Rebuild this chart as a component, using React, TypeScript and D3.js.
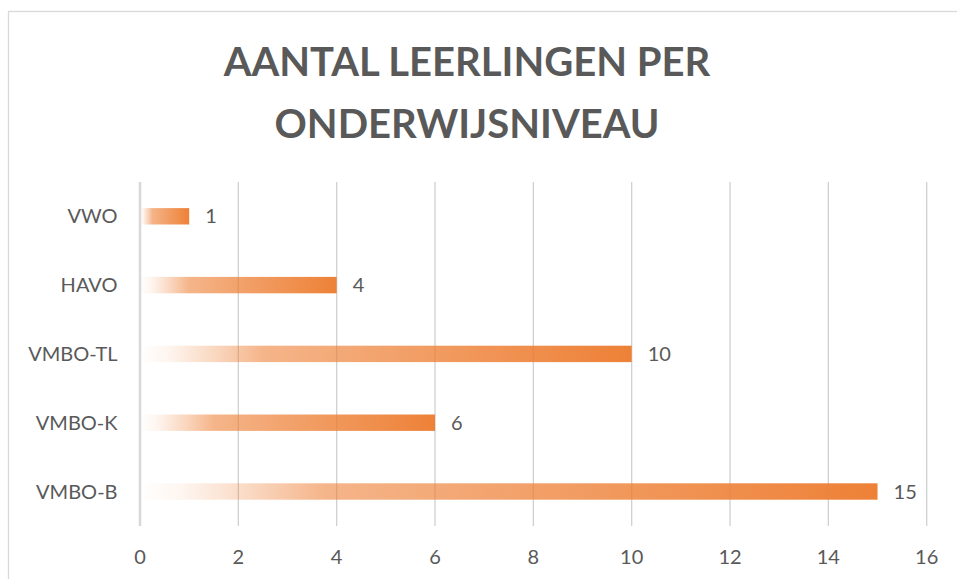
import React from "react";
import * as d3 from "d3";

const categories = ["VWO", "HAVO", "VMBO-TL", "VMBO-K", "VMBO-B"];
const values = [1, 4, 10, 6, 15];
const xTicks = [0, 2, 4, 6, 8, 10, 12, 14, 16];
const titleLines = ["AANTAL LEERLINGEN PER", "ONDERWIJSNIVEAU"];

const W = 957;
const H = 579;
const FONT = "Lato, 'Open Sans', sans-serif";
const TEXT = "#595959";

export default function App() {
  const x = d3.scaleLinear().domain([0, 16]).range([140, 926.7]);
  const y = d3.scaleBand<string>().domain(categories).range([181.9, 525.9]);
  const barH = 16.4;

  return (
    <div style={{ position: "fixed", left: 0, top: 0, width: W, height: H, background: "#fff" }}>
      <svg width={W} height={H} style={{ display: "block" }}>
        <defs>
          <linearGradient id="barGrad" x1="0" y1="0" x2="1" y2="0">
            <stop offset="0%" stopColor="#ED7D31" stopOpacity={0} />
            <stop offset="6%" stopColor="#ED7D31" stopOpacity={0.08} />
            <stop offset="15%" stopColor="#ED7D31" stopOpacity={0.3} />
            <stop offset="25%" stopColor="#ED7D31" stopOpacity={0.57} />
            <stop offset="55%" stopColor="#ED7D31" stopOpacity={0.74} />
            <stop offset="100%" stopColor="#ED7D31" stopOpacity={0.97} />
          </linearGradient>
        </defs>
        <rect x={8.5} y={11.5} width={W + 20} height={H + 20} fill="#fff" stroke="#D9D9D9" strokeWidth={1.3} />
        {titleLines.map((t, i) => (
          <text
            key={t}
            x={467}
            y={76 + i * 62.3}
            textAnchor="middle"
            fontFamily={FONT}
            fontWeight={700}
            fontSize={40}
            fill={TEXT}
          >
            {t}
          </text>
        ))}
        {xTicks.map((t) => (
          <g key={t}>
            {t !== 0 && (
              <line x1={x(t)} x2={x(t)} y1={181.9} y2={525.9} stroke="#D0D0D0" strokeWidth={1.3} />
            )}
            <text x={x(t)} y={564} textAnchor="middle" fontFamily={FONT} fontSize={20} fill={TEXT}>
              {t}
            </text>
          </g>
        ))}
        {categories.map((c, i) => {
          const cy = (y(c) as number) + y.bandwidth() / 2;
          return (
            <g key={c}>
              <rect x={x(0)} y={cy - barH / 2} width={x(values[i]) - x(0)} height={barH} fill="url(#barGrad)" />
              <text x={117.5} y={cy + 7} textAnchor="end" fontFamily={FONT} fontSize={20} fill={TEXT}>
                {c}
              </text>
              <text x={x(values[i]) + 16} y={cy + 7} fontFamily={FONT} fontSize={20} fill={TEXT}>
                {values[i]}
              </text>
            </g>
          );
        })}
        <line x1={x(0)} x2={x(0)} y1={181.9} y2={525.9} stroke="#D9D9D9" strokeWidth={2.6} />
      </svg>
    </div>
  );
}
